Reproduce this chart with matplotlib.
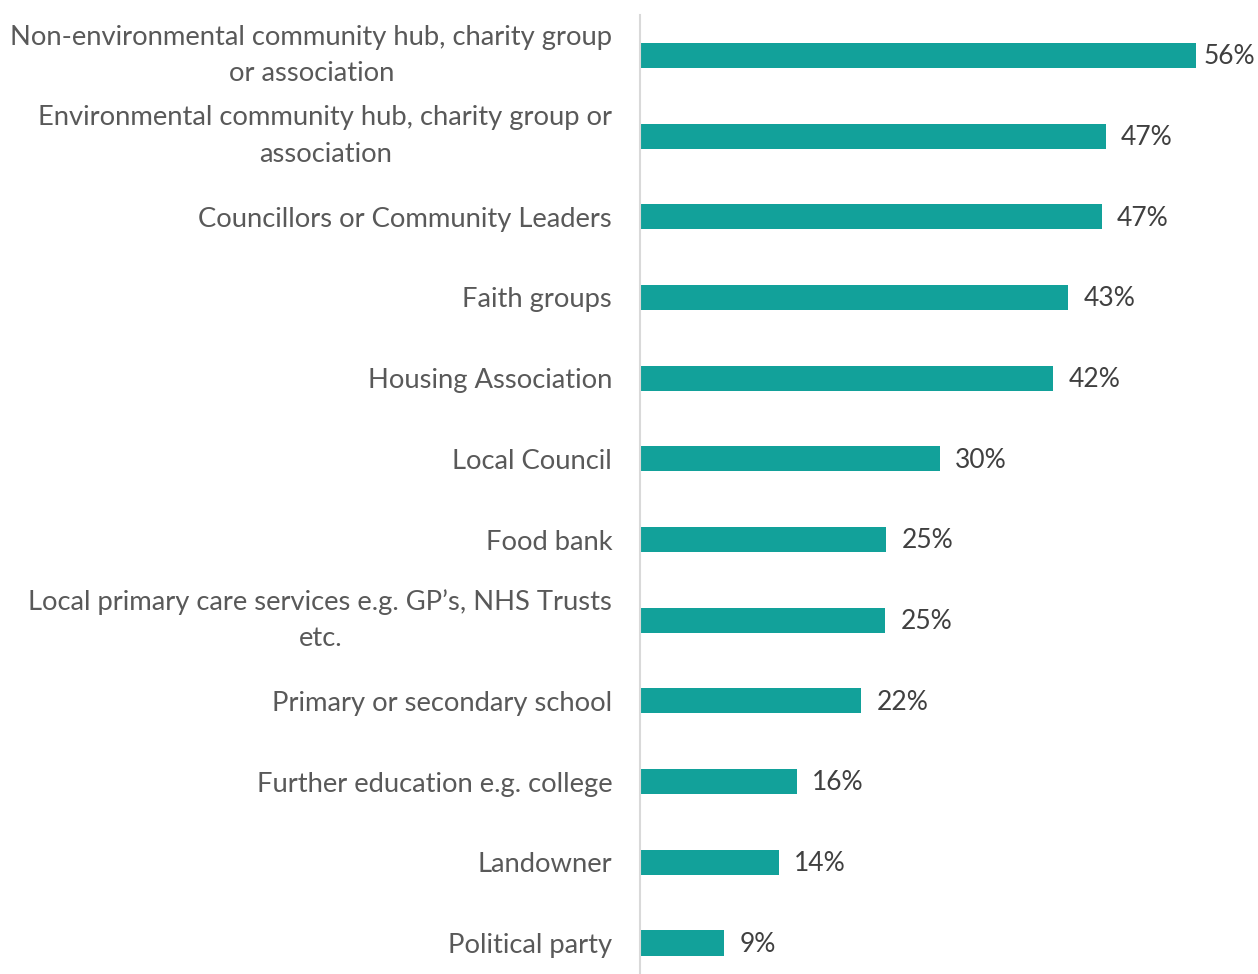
import matplotlib.pyplot as plt
import numpy as np

categories = [
    "Non-environmental community hub, charity group\nor association",
    "Environmental community hub, charity group or\nassociation",
    "Councillors or Community Leaders",
    "Faith groups",
    "Housing Association",
    "Local Council",
    "Food bank",
    "Local primary care services e.g. GP\u2019s, NHS Trusts\netc.",
    "Primary or secondary school",
    "Further education e.g. college",
    "Landowner",
    "Political party",
]
values = [56.0, 46.9, 46.5, 43.1, 41.6, 30.2, 24.8, 24.7, 22.3, 15.8, 14.0, 8.5]
value_labels = ["56%", "47%", "47%", "43%", "42%", "30%", "25%", "25%", "22%", "16%", "14%", "9%"]

BAR = "#12A19A"

plt.rcParams['font.family'] = ['Lato', 'DejaVu Sans']

fig = plt.figure(figsize=(12.58, 9.74), dpi=100)
left = 640 / 1258
top = 15 / 974
ax = fig.add_axes([left, 0, 1 - left, 1 - top])

y = np.arange(len(categories))
ax.barh(y, values, height=0.31, color=BAR)

xmax = (1258 - 640) / 9.93
ax.set_xlim(0, xmax)

for yi, v, lab in zip(y, values, value_labels):
    if v > xmax - 8:
        # no room after the bar: squeeze label against the right edge
        ax.annotate(lab, (1, yi), xycoords=('axes fraction', 'data'),
                    xytext=(-2, -1), textcoords='offset points',
                    va='center', ha='right', fontsize=19, color='#404040')
    else:
        ax.annotate(lab, (v, yi), xytext=(11, -1), textcoords='offset points',
                    va='center', ha='left', fontsize=19, color='#404040')

ax.set_yticks(y)
ax.set_yticklabels(categories, fontsize=19.7, color='#595959', ha='right',
                   multialignment='center', linespacing=1.58)
for t in ax.get_yticklabels():
    if "\n" in t.get_text():
        t.set_va('center')
ax.tick_params(axis='y', length=0, pad=20)
ax.tick_params(axis='x', length=0, labelbottom=False)

ax.set_ylim(11 + 31 / 80.7, -0.5)

for s in ['top', 'right', 'bottom']:
    ax.spines[s].set_visible(False)
ax.spines['left'].set_color('#D9D9D9')
ax.spines['left'].set_linewidth(1.5)

fig.savefig("out.png", dpi=100)
